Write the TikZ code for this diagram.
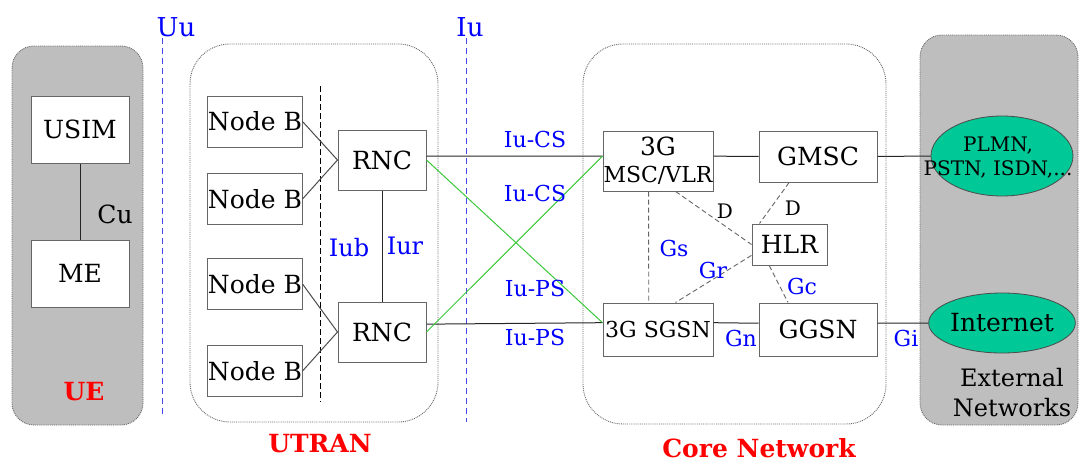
\documentclass[tikz,border=0pt]{standalone}
\usepackage{fontspec}
\setmainfont{DejaVu Serif}
\usetikzlibrary{shapes.geometric}

\definecolor{sedaoblast}{HTML}{BEBEBE}
\definecolor{tyrkys}{HTML}{00C896}
\definecolor{zelenacara}{HTML}{3CC83C}
\definecolor{modracara}{HTML}{4646F0}

\tikzset{
  blok/.style={draw=black!60, line width=1pt, fill=white, inner sep=0pt, font=\fontsize{25}{30}\selectfont},
  rozhrani/.style={text=blue, font=\fontsize{22}{24}\selectfont},
  oblast/.style={draw=black!60, densely dotted, line width=0.9pt},
  nazev/.style={text=red, inner sep=1pt, font=\bfseries\fontsize{25}{27}\selectfont},
  sit/.style={ellipse, draw=black!70, fill=tyrkys, line width=0.8pt, inner sep=0pt},
  spoj/.style={draw=black!85, line width=1pt},
  carkovane/.style={draw=black!60, dash pattern=on 5pt off 3pt, line width=0.9pt},
}

\begin{document}
\begin{tikzpicture}[x=1pt,y=-1pt]
  \useasboundingbox (0,0) rectangle (1080,463);

  % oblasti
  \draw[oblast, fill=sedaoblast, rounded corners=22pt] (12,46) rectangle (143,425);
  \draw[oblast, fill=white, rounded corners=40pt] (190,44) rectangle (438,422);
  \draw[oblast, fill=white, rounded corners=40pt] (583,44) rectangle (886,424);
  \draw[oblast, fill=sedaoblast, rounded corners=22pt] (920,35) rectangle (1078,425);

  % rozhrani Uu a Iu
  \coordinate (Uu1) at (162,38);
  \coordinate (Uu2) at (162,415);
  \coordinate (Iu1) at (466,38);
  \coordinate (Iu2) at (466,422);
  \draw[modracara, dash pattern=on 6pt off 4pt, line width=0.8pt] (Uu1) -- (Uu2);
  \draw[modracara, dash pattern=on 6pt off 4pt, line width=0.8pt] (Iu1) -- (Iu2);
  \node[rozhrani, font=\fontsize{26}{28}\selectfont] (Uu) at (176,27) {Uu};
  \node[rozhrani, font=\fontsize{26}{28}\selectfont] (Iu) at (470,27) {Iu};

  % UE
  \node[blok, minimum width=98, minimum height=67] (USIM) at (80,129.5) {USIM};
  \node[blok, minimum width=98, minimum height=67] (ME) at (80,273.5) {ME};
  \draw[spoj] (USIM) -- (ME);
  \node[font=\fontsize{25}{28}\selectfont] (Cu) at (115,214) {Cu};
  \node[nazev] (UE) at (84,392) {UE};

  % UTRAN
  \node[blok, minimum width=94, minimum height=51] (NB1) at (255,121.5) {Node B};
  \node[blok, minimum width=94, minimum height=51] (NB2) at (255,199) {Node B};
  \node[blok, minimum width=94, minimum height=51] (NB3) at (255,284) {Node B};
  \node[blok, minimum width=94, minimum height=51] (NB4) at (255,371) {Node B};
  \node[blok, minimum width=88, minimum height=60] (RNC1) at (382,160) {RNC};
  \node[blok, minimum width=88, minimum height=60] (RNC2) at (382,332) {RNC};
  \coordinate (Iub1) at (320,86);
  \coordinate (Iub2) at (320,402);
  \draw[black, dash pattern=on 6pt off 3pt, line width=0.9pt] (Iub1) -- (Iub2);
  \draw[spoj, black!70] (NB1.east) -- (RNC1.west);
  \draw[spoj, black!70] (NB2.east) -- (RNC1.west);
  \draw[spoj, black!70] (NB3.east) -- (RNC2.west);
  \draw[spoj, black!70] (NB4.east) -- (RNC2.west);
  \draw[spoj] (RNC1) -- (RNC2);
  \node[rozhrani, font=\fontsize{24}{26}\selectfont] (Iub) at (349,248) {Iub};
  \node[rozhrani, font=\fontsize{24}{26}\selectfont] (Iur) at (405,246) {Iur};
  \node[nazev] (UTRAN) at (320,444) {UTRAN};

  % core network
  \node[blok, minimum width=110, minimum height=60, align=center] (MSC) at (658,161)
    {3G\\[-3pt]{\fontsize{22}{24}\selectfont MSC/VLR}};
  \node[blok, minimum width=118, minimum height=51] (GMSC) at (818,156.5) {GMSC};
  \node[blok, minimum width=75, minimum height=41] (HLR) at (789.5,244.5) {HLR};
  \node[blok, minimum width=110, minimum height=53, font=\fontsize{22}{24}\selectfont] (SGSN) at (658,329.5) {3G SGSN};
  \node[blok, minimum width=118, minimum height=53] (GGSN) at (818,329.5) {GGSN};
  \node[nazev] (CN) at (759,448) {Core Network};

  % externi site
  \node[sit, minimum width=142, minimum height=80] (PLMN) at (1002,156) {};
  \node[align=center, font=\fontsize{20}{24}\selectfont] (PLMNtext) at (998,158) {PLMN,\\PSTN, ISDN,...};
  \node[sit, minimum width=140, minimum height=60, font=\fontsize{25}{28}\selectfont] (Internet) at (1002,323) {Internet};
  \node[align=center, font=\fontsize{24}{30}\selectfont] (EN) at (1012,393) {External\\Networks};

  % spoje Iu
  \draw[spoj] (RNC1.5) -- (MSC.175);
  \draw[spoj] (RNC2.10) -- (SGSN.173);
  \draw[zelenacara, line width=1pt] (RNC1.east) -- (SGSN.173);
  \draw[zelenacara, line width=1pt] (RNC2.east) -- (MSC.175);
  \node[rozhrani] (IuCS1) at (535,139) {Iu-CS};
  \node[rozhrani] (IuCS2) at (535,193) {Iu-CS};
  \node[rozhrani] (IuPS1) at (535,288) {Iu-PS};
  \node[rozhrani] (IuPS2) at (535,337) {Iu-PS};

  % spoje v jadru
  \draw[spoj] (MSC.5) -- (GMSC.west);
  \draw[spoj] (GMSC.east) -- (PLMN.west);
  \draw[spoj] (SGSN.7) -- (GGSN.174);
  \draw[spoj] (GGSN.6) -- (Internet.west);
  \draw[carkovane] (MSC.253) -- (SGSN.109);
  \draw[carkovane] (MSC.300) -- (HLR.west);
  \draw[carkovane] (GMSC.222) -- (HLR.145);
  \draw[carkovane] (HLR.196) -- (SGSN.57);
  \draw[carkovane] (HLR.226) -- (GGSN.138);
  \node[font=\fontsize{20}{22}\selectfont] (D1) at (725,211) {D};
  \node[font=\fontsize{20}{22}\selectfont] (D2) at (793,208) {D};
  \node[rozhrani] (Gs) at (674,248) {Gs};
  \node[rozhrani] (Gr) at (713,270) {Gr};
  \node[rozhrani] (Gc) at (802,286) {Gc};
  \node[rozhrani] (Gn) at (741,338) {Gn};
  \node[rozhrani] (Gi) at (906,338) {Gi};
\end{tikzpicture}
\end{document}
